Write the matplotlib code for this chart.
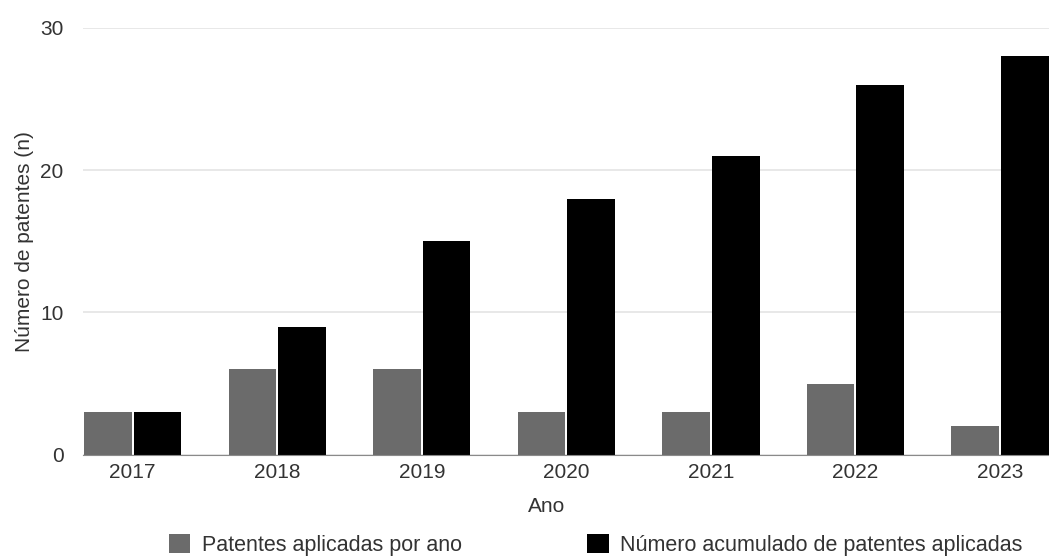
import numpy as np
import matplotlib.pyplot as plt

plt.rcParams['font.family'] = ['Liberation Sans', 'DejaVu Sans']

anos = ['2017', '2018', '2019', '2020', '2021', '2022', '2023']
por_ano = [3, 6, 6, 3, 3, 5, 2]
acumulado = [3, 9, 15, 18, 21, 26, 28]

x = np.arange(len(anos))
w = 0.33
gap = 0.007

fig = plt.figure(figsize=(10.49, 5.58), dpi=100)
ax = fig.add_axes([0.079, 0.185, 0.921, 0.765])

b1 = ax.bar(x - w / 2 - gap, por_ano, w, color='#6b6b6b', label='Patentes aplicadas por ano', zorder=3)
b2 = ax.bar(x + w / 2 + gap, acumulado, w, color='#000000', label='Número acumulado de patentes aplicadas', zorder=3)

ax.set_xlim(-0.345, 6.34)
ax.set_ylim(0, 30)
ax.set_yticks([0, 10, 20, 30])
ax.set_xticks(x)
ax.set_xticklabels(anos)
ax.grid(axis='y', color='#e4e4e4', linewidth=1.2, zorder=0)
for s in ['top', 'right', 'left']:
    ax.spines[s].set_visible(False)
ax.spines['bottom'].set_color('#8a8a8a')
ax.spines['bottom'].set_zorder(4)
ax.tick_params(axis='both', length=0, labelsize=15, colors='#333333')
ax.tick_params(axis='y', pad=14)
ax.tick_params(axis='x', pad=6)

ax.set_xlabel('Ano', fontsize=15, color='#333333')
ax.set_ylabel('Número de patentes (n)', fontsize=15, color='#333333')
ax.xaxis.set_label_coords(0.48, -0.10)
ax.yaxis.set_label_coords(-0.051, 0.5)

fig.legend(handles=[b1, b2], loc='center', bbox_to_anchor=(0.568, 0.024), ncol=2, frameon=False,
           fontsize=15.5, handlelength=1.0, handleheight=1.0, columnspacing=5.8, handletextpad=0.55,
           labelcolor='#333333')

fig.savefig('out.png', dpi=100)
